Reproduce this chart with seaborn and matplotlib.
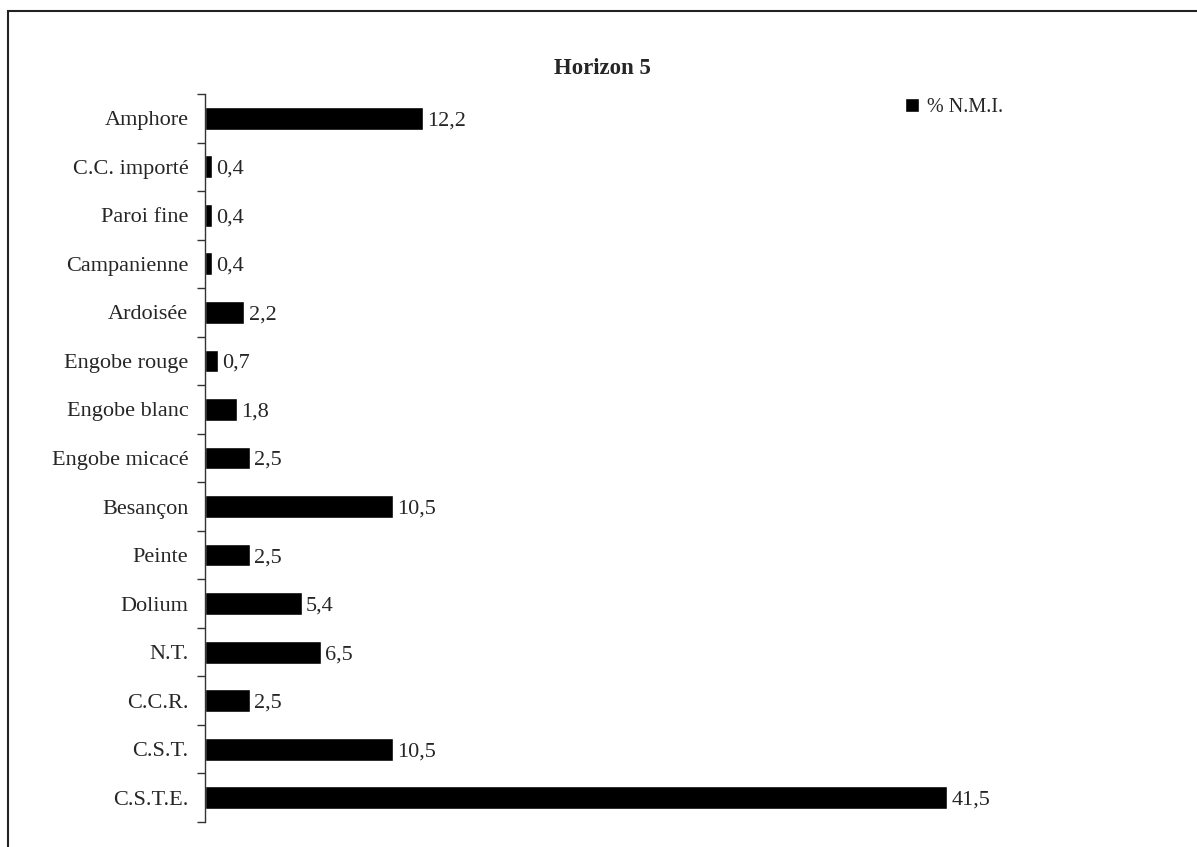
import matplotlib
matplotlib.use("Agg")
import matplotlib.pyplot as plt
from matplotlib.patches import Patch, Rectangle
import seaborn as sns
import pandas as pd

sns.set_style("white")
plt.rcParams['font.family'] = ['Liberation Serif', 'DejaVu Serif']

# data (top to bottom)
categories = ["Amphore", "C.C. importé", "Paroi fine", "Campanienne", "Ardoisée",
              "Engobe rouge", "Engobe blanc", "Engobe micacé", "Besançon", "Peinte",
              "Dolium", "N.T.", "C.C.R.", "C.S.T.", "C.S.T.E."]
values = [12.2, 0.4, 0.4, 0.4, 2.2, 0.7, 1.8, 2.5, 10.5, 2.5, 5.4, 6.5, 2.5, 10.5, 41.5]
series_name = "% N.M.I."
title = "Horizon 5"

df = pd.DataFrame({"cat": categories, "val": values})

W, H = 1197, 847
fig = plt.figure(figsize=(W / 100, H / 100), dpi=100)
ax = fig.add_axes([205 / W, 25 / H, 894 / W, 728 / H])

sns.barplot(data=df, x="val", y="cat", orient="h", color="black",
            width=0.47, saturation=1, ax=ax)

labels = [f"{v:.1f}".replace(".", ",") for v in values]
texts = ax.bar_label(ax.containers[0], labels=labels, padding=3, fontsize=16)
for t in texts:
    t.set_va("center_baseline")

ax.set_xlim(0, 50)
ax.set_ylim(len(categories) - 0.5, -0.5)
ax.set_xlabel("")
ax.set_ylabel("")
ax.set_xticks([])

for s in ["top", "right", "bottom"]:
    ax.spines[s].set_visible(False)
ax.spines["left"].set_color("#333333")
ax.spines["left"].set_linewidth(1)

# tick marks between categories, no marks at labels
ax.set_yticks([i - 0.5 for i in range(len(categories) + 1)], minor=True)
ax.tick_params(axis="y", which="minor", length=6, width=1, color="#333333", left=True)
ax.tick_params(axis="y", which="major", length=0, pad=12, labelsize=16)

fig.text(602 / W, 1 - 68 / H, title, ha="center", va="center",
         fontsize=16.5, fontweight="bold")

fig.legend(handles=[Patch(facecolor="black", label=series_name)],
           loc="upper left", bbox_to_anchor=(895 / W, 1 - 88 / H),
           frameon=False, fontsize=14.5, handlelength=0.7, handleheight=0.7,
           handletextpad=0.4, borderpad=0)

fig.patches.append(Rectangle((8 / W, -0.5), 2, 0.5 + (1 - 11 / H),
                             transform=fig.transFigure, fill=False,
                             edgecolor="#222222", linewidth=1.5))

fig.savefig("out.png", dpi=100)
